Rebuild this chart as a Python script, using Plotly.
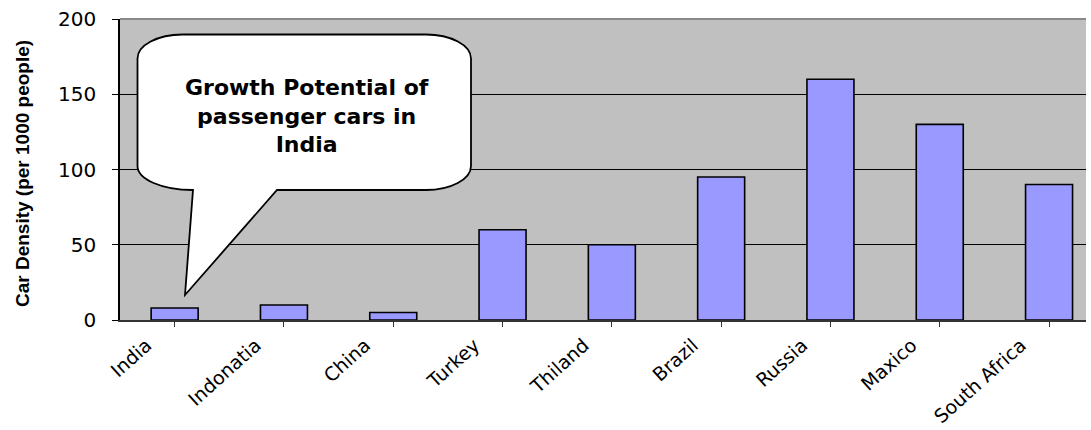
import plotly.graph_objects as go

categories = ["India", "Indonatia", "China", "Turkey", "Thiland", "Brazil", "Russia", "Maxico", "South Africa"]
car_density = [8, 10, 5, 60, 50, 95, 160, 130, 90]
y_ticks = [0, 50, 100, 150, 200]

W, H = 1091, 430
ML, MR, MT, MB = 120, 5, 19, 110
PW, PH = W - ML - MR, H - MT - MB


def px(x, y):
    return (x - ML) / PW, (H - MB - y) / PH


def path_from(points):
    out = []
    for cmd, pts in points:
        coords = " ".join("%.5f,%.5f" % px(x, y) for x, y in pts)
        out.append(cmd + " " + coords if coords else cmd)
    return " ".join(out)


# Callout bubble geometry (pixels)
L, R, T, B = 137.5, 471, 34.5, 190
rx, ry = 45, 24
k = 0.552
bubble = [
    ("M", [(L + rx, T)]),
    ("L", [(R - rx, T)]),
    ("C", [(R - rx + k * rx, T), (R, T + ry - k * ry), (R, T + ry)]),
    ("L", [(R, B - ry)]),
    ("C", [(R, B - ry + k * ry), (R - rx + k * rx, B), (R - rx, B)]),
    ("L", [(277, B)]),
    ("L", [(185, 295)]),
    ("L", [(193, B)]),
    ("L", [(L + 55, B)]),
    ("C", [(L + 55 - k * 55, B), (L, B - ry + k * ry), (L, B - ry)]),
    ("L", [(L, T + ry)]),
    ("C", [(L, T + ry - k * ry), (L + rx - k * rx, T), (L + rx, T)]),
    ("Z", []),
]

fig = go.Figure()
fig.add_trace(go.Bar(
    x=list(range(len(categories))),
    y=car_density,
    width=0.43,
    marker=dict(color="#9999FF", line=dict(color="black", width=1.6)),
))

fig.add_shape(type="path", xref="paper", yref="paper", path=path_from(bubble),
              fillcolor="white", line=dict(color="black", width=1.8), layer="above")
fig.add_shape(type="line", xref="paper", yref="paper", x0=0, x1=1, y0=1, y1=1,
              line=dict(color="#8a8a8a", width=2), layer="above")

cx, cy = px(307, 116)
fig.add_annotation(xref="paper", yref="paper", x=cx, y=cy, xanchor="center", yanchor="middle",
                   text="<b>Growth Potential of<br>passenger cars in<br>India</b>", showarrow=False,
                   font=dict(family="DejaVu Sans", size=22, color="black"), align="center")

tx, ty = px(23, 174)
fig.add_annotation(xref="paper", yref="paper", x=tx, y=ty, xanchor="center", yanchor="middle",
                   text="<b>Car Density (per 1000 people)</b>", textangle=-90, showarrow=False,
                   font=dict(family="Liberation Sans", size=19, color="black"))

fig.update_layout(
    width=W, height=H,
    margin=dict(l=ML, r=MR, t=MT, b=MB, autoexpand=False),
    paper_bgcolor="white",
    plot_bgcolor="#C0C0C0",
    showlegend=False,
    bargap=0.5,
)
fig.update_xaxes(
    range=[-0.5, -0.5 + (1086 - ML) / 109.3],
    tickmode="array",
    tickvals=list(range(len(categories))),
    ticktext=categories,
    tickangle=-42,
    ticklabelshift=-28,
    automargin=False,
    showgrid=False,
    showline=True, linecolor="#333333", linewidth=1.5,
    ticks="outside", ticklen=5, tickcolor="#333333",
    tickfont=dict(family="DejaVu Sans", size=19, color="black"),
    zeroline=False,
)
fig.update_yaxes(
    range=[0, 200],
    tickvals=y_ticks,
    automargin=False,
    showgrid=True, gridcolor="black", gridwidth=1,
    showline=True, linecolor="black", linewidth=1.5,
    ticks="outside", ticklen=6, tickcolor="black",
    tickfont=dict(family="DejaVu Sans", size=20, color="black"),
    ticklabelstandoff=12,
    zeroline=False,
)

fig.write_html("out.html")
